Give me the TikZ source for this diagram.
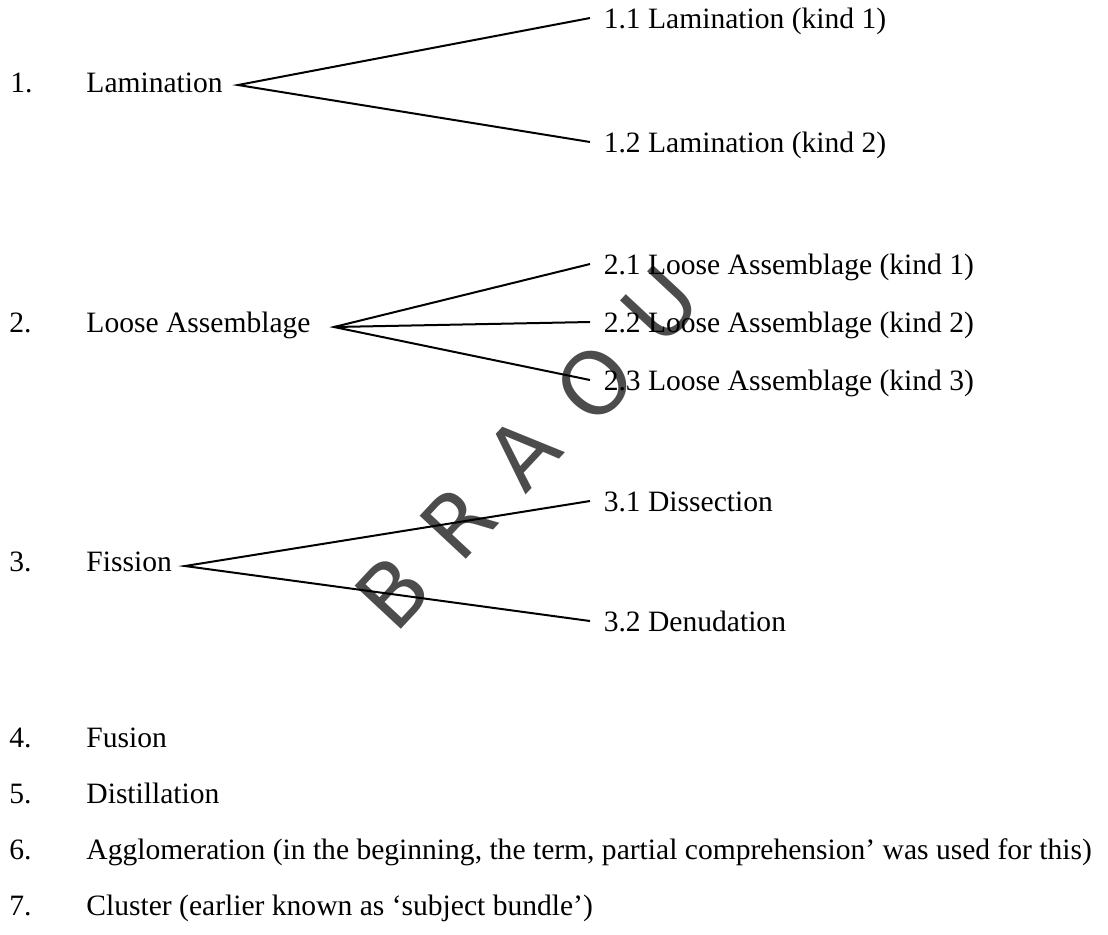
\documentclass[tikz,border=0pt]{standalone}
\usepackage{fontspec}
\setmainfont{Liberation Serif}
\newfontfamily\marksans{DejaVu Sans}

\begin{document}
\begin{tikzpicture}[x=0.45pt,y=-0.45pt,font=\fontsize{13.3}{16}\selectfont,
  item/.style={anchor=base west,inner sep=0pt},
  kind/.style={anchor=base west,inner xsep=6pt,inner ysep=0pt,text height=9pt,text depth=0pt},
  fork/.style={line width=0.9pt},
  wmark/.style={font=\marksans\fontsize{39}{40}\selectfont,text=black!70,rotate=47,inner sep=0pt}]
\useasboundingbox (0,0) rectangle (1108,934);

% watermark of the scan
\foreach \ch/\x/\y in {B/393/592, R/458/522, A/523/452, O/595/383, U/660/305}
  \node[wmark] (wm\ch) at (\x,\y) {\ch};

% 1. Lamination
\node[item] (n1) at (10,92) {1.};
\node[item] (lam) at (86,92) {Lamination};
\coordinate (b1) at (238,85);
\node[kind] (lam1) at (590,28) {1.1 Lamination (kind 1)};
\node[kind] (lam2) at (590,152) {1.2 Lamination (kind 2)};
\draw[fork] (lam1.west) -- (b1) -- (lam2.west);

% 2. Loose Assemblage
\node[item] (n2) at (9,332) {2.};
\node[item] (loose) at (86,332) {Loose Assemblage};
\coordinate (b2) at (334,327);
\node[kind] (loose1) at (590,274) {2.1 Loose Assemblage (kind 1)};
\node[kind] (loose2) at (590,332) {2.2 Loose Assemblage (kind 2)};
\node[kind] (loose3) at (590,390) {2.3 Loose Assemblage (kind 3)};
\draw[fork] (loose1.west) -- (b2) -- (loose3.west);
\draw[fork] (b2) -- (loose2.west);

% 3. Fission
\node[item] (n3) at (9,571) {3.};
\node[item] (fis) at (86,571) {Fission};
\coordinate (b3) at (185,566);
\node[kind] (fis1) at (590,511) {3.1 Dissection};
\node[kind] (fis2) at (590,631) {3.2 Denudation};
\draw[fork] (fis1.west) -- (b3) -- (fis2.west);

% 4. to 7.
\node[item] (n4) at (9,747) {4.};
\node[item] (fus) at (86,747) {Fusion};
\node[item] (n5) at (9,803) {5.};
\node[item] (dist) at (86,803) {Distillation};
\node[item] (n6) at (9,859) {6.};
\node[item] (aggl) at (86,859) {Agglomeration (in the beginning, the term, partial comprehension' was used for this)};
\node[item] (n7) at (9,915) {7.};
\node[item] (clus) at (86,915) {Cluster (earlier known as `subject bundle')};
\end{tikzpicture}
\end{document}
